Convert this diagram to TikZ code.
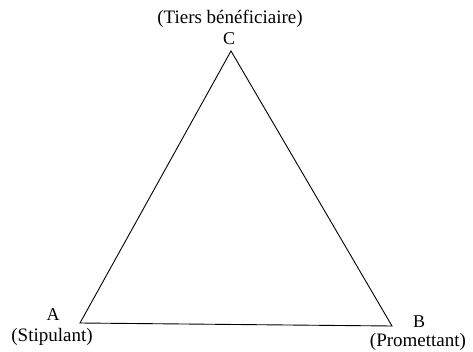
\documentclass[tikz,border=0pt]{standalone}
\usepackage{fontspec}
\setmainfont{Liberation Serif}
\usetikzlibrary{positioning}

\begin{document}
\begin{tikzpicture}[
    x=1pt, y=-1pt,
    corner/.style = {inner sep=0pt, font=\fontsize{18}{20}\selectfont},
    role/.style   = {inner sep=0pt, font=\fontsize{19}{22}\selectfont},
    side/.style   = {line width=0.9pt}
]
\useasboundingbox (0,0) rectangle (473,352);

% Vrcholy trojuhelniku
\coordinate (A) at (80,323);
\coordinate (B) at (392,326);
\coordinate (C) at (231,51);

% Pismena vrcholu
\node[corner] (lA) at (53,315)  {A};
\node[corner] (lB) at (419,322) {B};
\node[corner] (lC) at (229,39)  {C};

% Role stran
\node[role] (rA) at (52,337)  {(Stipulant)};
\node[role] (rB) at (418,342) {(Promettant)};
\node[role] (rC) at (230,19)  {(Tiers bénéficiaire)};

% Strany
\draw[side] (A) -- (B) -- (C) -- cycle;

\end{tikzpicture}
\end{document}
